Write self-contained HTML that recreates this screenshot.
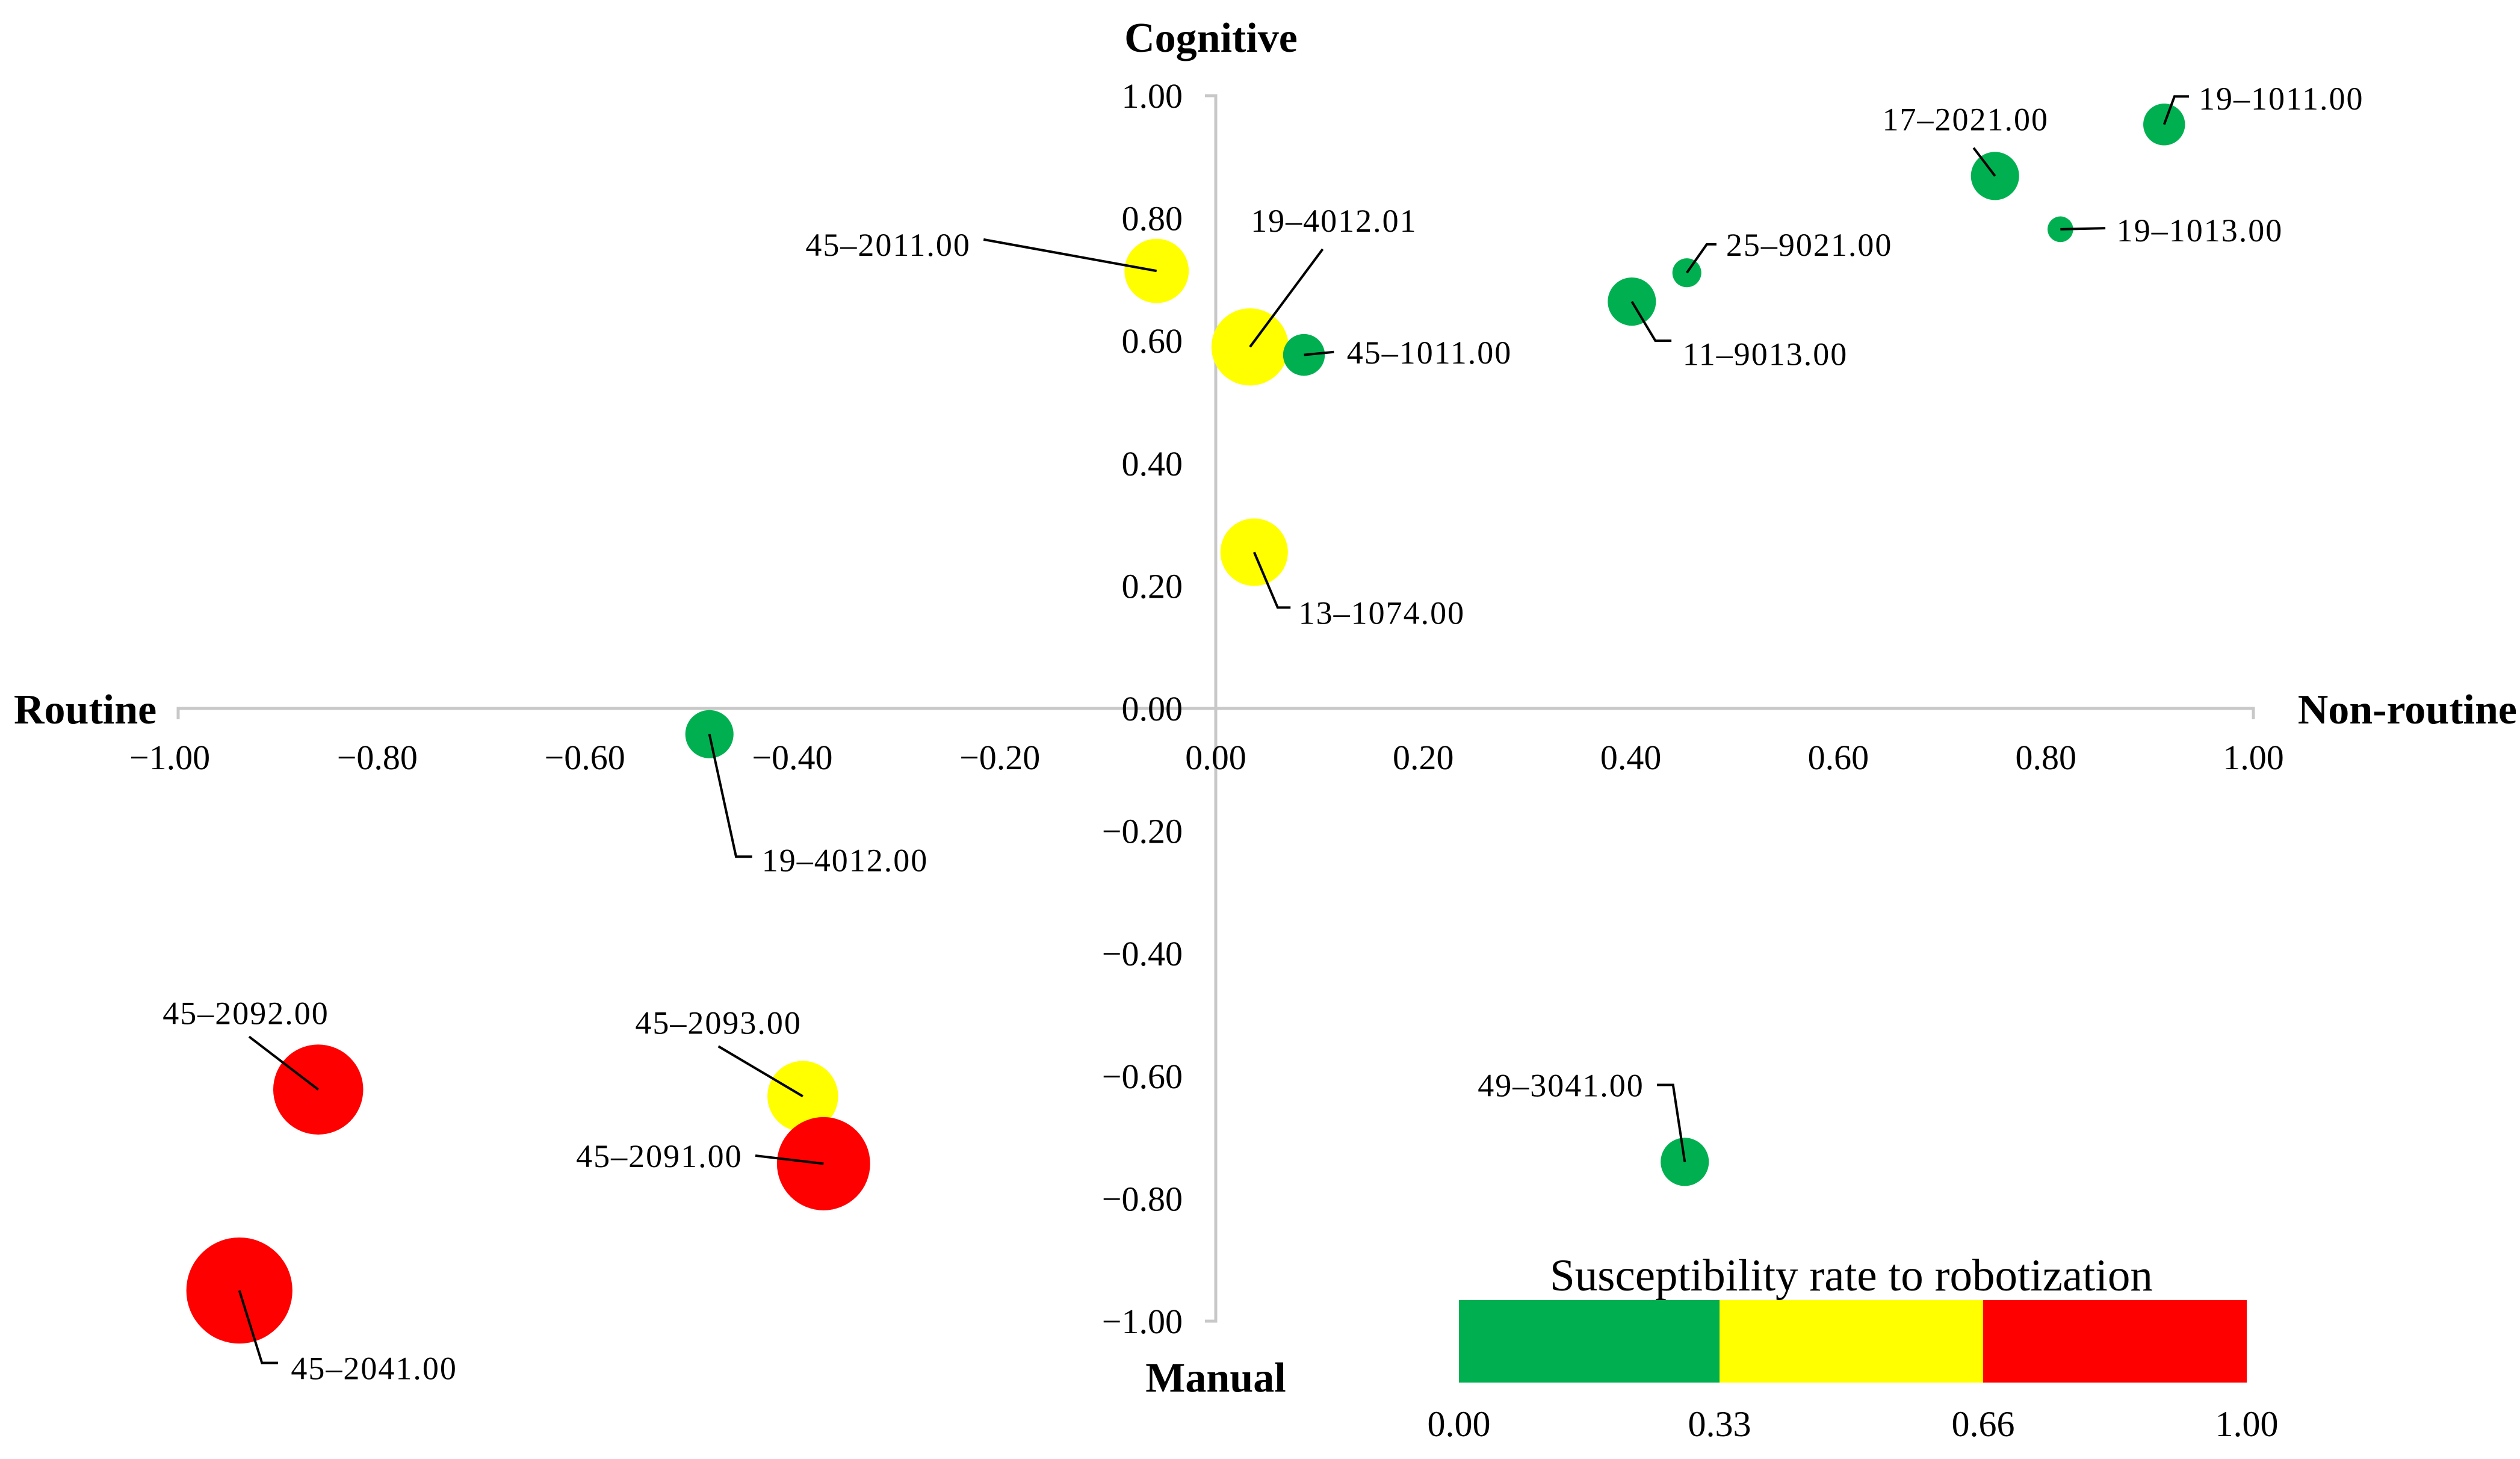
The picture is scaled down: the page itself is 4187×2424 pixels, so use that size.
<!DOCTYPE html>
<html><head><meta charset="utf-8">
<style>
html,body{margin:0;padding:0;background:#fff;}
svg{display:block;}
text{font-family:"Liberation Serif",serif;fill:#000;}
</style></head>
<body>
<svg id="chart" width="4187" height="2424" viewBox="0 0 4187 2424" xmlns="http://www.w3.org/2000/svg">
<g id="axes"></g>
<g id="leaders"></g>
<g id="bubbles"></g>
<g id="labels"></g>
<text x="2012" y="86" font-size="70" font-weight="bold" text-anchor="middle">Cognitive</text>
<text x="2020" y="2312" font-size="70" font-weight="bold" text-anchor="middle">Manual</text>
<text x="23" y="1202" font-size="70" font-weight="bold">Routine</text>
<text x="4182" y="1202" font-size="70" font-weight="bold" text-anchor="end">Non-routine</text>
<g>
<text x="3076" y="2144" font-size="75" text-anchor="middle">Susceptibility rate to robotization</text>
<rect x="2424" y="2160" width="434" height="137" fill="#00b050"/>
<rect x="2857" y="2160" width="439" height="137" fill="#ffff00"/>
<rect x="3295" y="2160" width="438" height="137" fill="#ff0000"/>
<text x="2424" y="2386" font-size="60" text-anchor="middle">0.00</text>
<text x="2857" y="2386" font-size="60" text-anchor="middle">0.33</text>
<text x="3295" y="2386" font-size="60" text-anchor="middle">0.66</text>
<text x="3733" y="2386" font-size="60" text-anchor="middle">1.00</text>
</g>
</svg>
<script>
const codes = ["19–1011.00","17–2021.00","19–1013.00","25–9021.00","11–9013.00","45–2011.00","19–4012.01","45–1011.00","13–1074.00","19–4012.00","45–2092.00","45–2093.00","45–2091.00","45–2041.00","49–3041.00"];
const xValues = [0.914,0.751,0.814,0.454,0.401,-0.057,0.033,0.085,0.037,-0.488,-0.865,-0.398,-0.378,-0.941,0.452];
const yValues = [0.953,0.869,0.782,0.711,0.664,0.714,0.590,0.577,0.255,-0.042,-0.622,-0.633,-0.743,-0.950,-0.740];
const bubbleSizes = [13,15,8,9,15,20,24,13,21,15,28,22,29,33,15];
const riskClass = ["g","g","g","g","g","y","y","g","y","g","r","y","r","r","g"];
const tickValues = [-1,-0.8,-0.6,-0.4,-0.2,0,0.2,0.4,0.6,0.8,1];
const tickLabels = ["−1.00","−0.80","−0.60","−0.40","−0.20","0.00","0.20","0.40","0.60","0.80","1.00"];

const NS="http://www.w3.org/2000/svg";
const K=2.6703;
const X0=2020, XU=1724, Y0=1177, YU=1018;
function sx(v){return X0+v*XU;}
function sy(v){return Y0-v*YU;}
const colors={g:"#00b050",y:"#ffff00",r:"#ff0000"};
function mk(tag,attrs,parent){const e=document.createElementNS(NS,tag);for(const k in attrs)e.setAttribute(k,attrs[k]);parent.appendChild(e);return e;}

const axes=document.getElementById('axes');
let e;
e=mk('path',{d:`M${sx(-1)} ${Y0+18} V${Y0} H${sx(1)} V${Y0+18}`,stroke:"#c8c8c8","stroke-width":5,fill:"none"},axes);


e=mk('path',{d:`M${X0-18} ${sy(1)} H${X0} V${sy(-1)} H${X0-18}`,stroke:"#c8c8c8","stroke-width":5,fill:"none"},axes);


tickValues.forEach((v,i)=>{
  const t=mk('text',{x:sx(v)-(v<0?14:0),y:Y0+101,"font-size":58,"text-anchor":"middle"},axes);
  t.textContent=tickLabels[i];
  
  
  const u=mk('text',{x:X0-55,y:sy(v)+20,"font-size":58,"text-anchor":"end"},axes);
  u.textContent=tickLabels[i];
  
  
});

// label layout in display units: [textX, textY(center), anchor, leader points after center]
const layout=[
 [1368,61,"start",[[1353,60],[1362,60]]],
 [1223,74,"middle",[[1228,92]]],
 [1317,143,"start",[[1310,142]]],
 [1074,152,"start",[[1062,152],[1068,152]]],
 [1047,220,"start",[[1030,212],[1040,212]]],
 [604,152,"end",[[612,149]]],
 [830,137,"middle",[[823,155]]],
 [838,219,"start",[[830,219]]],
 [808,381,"start",[[795,378],[803,378]]],
 [474,535,"start",[[458,533],[468,533]]],
 [153,630,"middle",[[155,645]]],
 [447,636,"middle",[[447,651]]],
 [462,719,"end",[[470,719]]],
 [181,851,"start",[[163,848],[173,848]]],
 [1023,675,"end",[[1041,675],[1031,675]]]
];
const leaders=document.getElementById('leaders'),bub=document.getElementById('bubbles'),lab=document.getElementById('labels');
codes.forEach((c,i)=>{
  const cx=sx(xValues[i]), cy=sy(yValues[i]);
  const L=layout[i];
  let d=`M${cx} ${cy}`;
  const pts=L[3];
  pts.forEach(p=>{d+=` L${p[0]*K} ${p[1]*K}`;});
  const ci=mk('circle',{cx:cx,cy:cy,r:bubbleSizes[i]*K,fill:colors[riskClass[i]]},bub);
  
  
  const ln=mk('path',{d:d,stroke:"#000","stroke-width":4,fill:"none"},leaders);
  
  
  const t=mk('text',{x:L[0]*K,y:L[1]*K+19,"font-size":54,"letter-spacing":2,"text-anchor":L[2]},lab);
  t.textContent=c;
  
  
});
document.getElementById('chart').appendChild(leaders);
document.getElementById('chart').appendChild(lab);
</script>
</body></html>
